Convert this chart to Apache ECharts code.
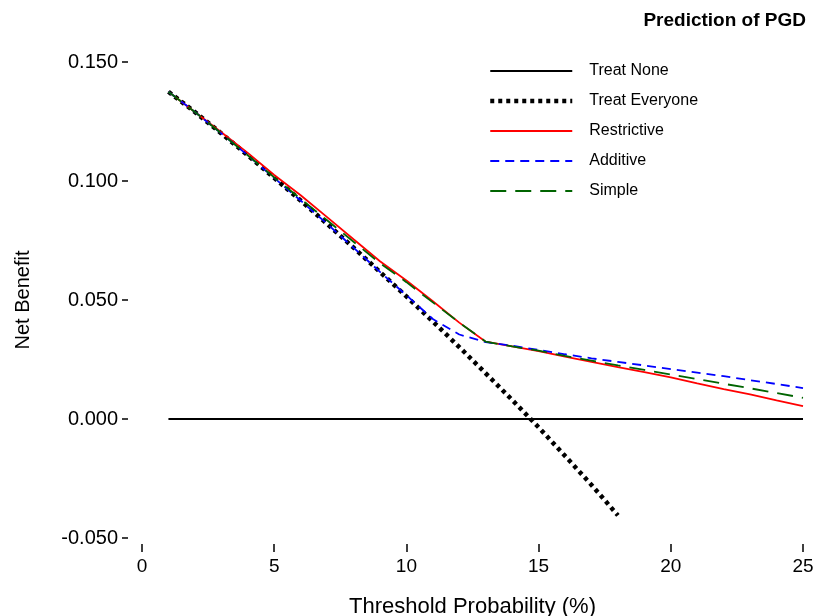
<!DOCTYPE html>
<html>
<head>
<meta charset="utf-8">
<script src="https://cdn.jsdelivr.net/npm/echarts@6/dist/echarts.min.js"></script>
<style>
  html, body { margin: 0; padding: 0; background: #fff; }
  #main { width: 816px; height: 616px; }
</style>
</head>
<body>
<div id="main"></div>
<script>
"use strict";
// threshold probability (%)
var thresholds = [1, 2, 3, 4, 5, 6, 7, 8, 9, 10, 11, 12, 13, 14, 15, 16, 17, 18, 19, 20, 21, 22, 23, 24, 25];
var treatNone = [0, 0, 0, 0, 0, 0, 0, 0, 0, 0, 0, 0, 0, 0, 0, 0, 0, 0, 0, 0, 0, 0, 0, 0, 0];
// treat everyone stops at 18%
var treatAll = [0.1375, 0.1290, 0.1200, 0.1108, 0.1013, 0.0918, 0.0820, 0.0720, 0.0618, 0.0515, 0.0410, 0.0302, 0.0192, 0.0080, -0.0035, -0.0155, -0.0277, -0.0405];
var restrictive = [0.1375, 0.1290, 0.1205, 0.1118, 0.1025, 0.0940, 0.0848, 0.0755, 0.0663, 0.0582, 0.0495, 0.0405, 0.0325, 0.0305, 0.0285, 0.0262, 0.0240, 0.0218, 0.0197, 0.0175, 0.0150, 0.0126, 0.0103, 0.0078, 0.0054];
var additive = [0.1375, 0.1290, 0.1200, 0.1108, 0.1013, 0.0918, 0.0820, 0.0720, 0.0618, 0.0520, 0.0420, 0.0355, 0.0323, 0.0308, 0.0290, 0.0272, 0.0255, 0.0240, 0.0225, 0.0210, 0.0195, 0.0180, 0.0163, 0.0147, 0.0130];
var simple = [0.1375, 0.1290, 0.1200, 0.1108, 0.1015, 0.0925, 0.0835, 0.0745, 0.0655, 0.0575, 0.0490, 0.0405, 0.0325, 0.0305, 0.0287, 0.0265, 0.0245, 0.0225, 0.0206, 0.0187, 0.0168, 0.0148, 0.0129, 0.0109, 0.0089];
var xTicks = [0, 25, 5];
var yTicks = [-0.05, 0.15, 0.05];

function pairs(vals) {
  return vals.map(function (v, i) { return [thresholds[i], v]; });
}

var font = "Liberation Sans, Arial, sans-serif";
var chart = echarts.init(document.getElementById('main'));
chart.setOption({
  animation: false,
  textStyle: { fontFamily: font },
  title: {
    text: 'Prediction of PGD',
    right: 5, top: 6,
    textStyle: { fontFamily: font, fontWeight: 'bold', fontSize: 19, color: '#000' }
  },
  legend: {
    orient: 'vertical',
    left: 483, top: 58,
    itemWidth: 82, itemHeight: 14, itemGap: 14,
    // hide the marker circle, keep the line with the series width
    itemStyle: { color: 'rgba(0,0,0,0)', borderColor: 'rgba(0,0,0,0)', borderWidth: 0 },
    lineStyle: { width: 'inherit' },
    textStyle: { fontFamily: font, fontSize: 16, color: '#000', padding: [0, 0, 0, 12] },
    data: ['Treat None', 'Treat Everyone', 'Restrictive', 'Additive', 'Simple']
  },
  grid: { left: 142, right: 13, top: 62, bottom: 78, outerBoundsMode: 'none' },
  xAxis: {
    type: 'value',
    min: xTicks[0], max: xTicks[1], interval: xTicks[2],
    offset: 6,
    name: 'Threshold Probability (%)',
    nameLocation: 'middle', nameGap: 52,
    nameTextStyle: { fontFamily: font, fontSize: 22, color: '#000' },
    axisLine: { show: false, onZero: false },
    axisTick: { show: true, length: 8, lineStyle: { color: '#000', width: 1.5 } },
    axisLabel: { fontFamily: font, fontSize: 19, color: '#000', margin: 13 },
    splitLine: { show: false }
  },
  yAxis: {
    type: 'value',
    min: yTicks[0], max: yTicks[1], interval: yTicks[2],
    offset: 14,
    name: 'Net Benefit',
    nameLocation: 'middle', nameGap: 95,
    nameTextStyle: { fontFamily: font, fontSize: 20, color: '#000' },
    axisLine: { show: false, onZero: false },
    axisTick: { show: true, length: 6, lineStyle: { color: '#000', width: 1.5 } },
    axisLabel: {
      fontFamily: font, fontSize: 20, color: '#000', margin: 10,
      formatter: function (v) { return v.toFixed(3); }
    },
    splitLine: { show: false }
  },
  series: [
    {
      name: 'Treat None', type: 'line', symbol: 'none',
      data: pairs(treatNone),
      lineStyle: { color: '#000', width: 1.8 },
      itemStyle: { color: '#000' }
    },
    {
      name: 'Treat Everyone', type: 'line', symbol: 'none',
      data: pairs(treatAll),
      lineStyle: { color: '#000', width: 4.5, type: [4, 4] },
      itemStyle: { color: '#000' }
    },
    {
      name: 'Restrictive', type: 'line', symbol: 'none',
      data: pairs(restrictive),
      lineStyle: { color: '#ff0000', width: 1.8 },
      itemStyle: { color: '#ff0000' }
    },
    {
      name: 'Additive', type: 'line', symbol: 'none',
      data: pairs(additive),
      lineStyle: { color: '#0000ff', width: 1.8, type: [9, 6] },
      itemStyle: { color: '#0000ff' }
    },
    {
      name: 'Simple', type: 'line', symbol: 'none',
      data: pairs(simple),
      lineStyle: { color: '#006400', width: 1.8, type: [16, 9] },
      itemStyle: { color: '#006400' }
    }
  ]
});
</script>
</body>
</html>
